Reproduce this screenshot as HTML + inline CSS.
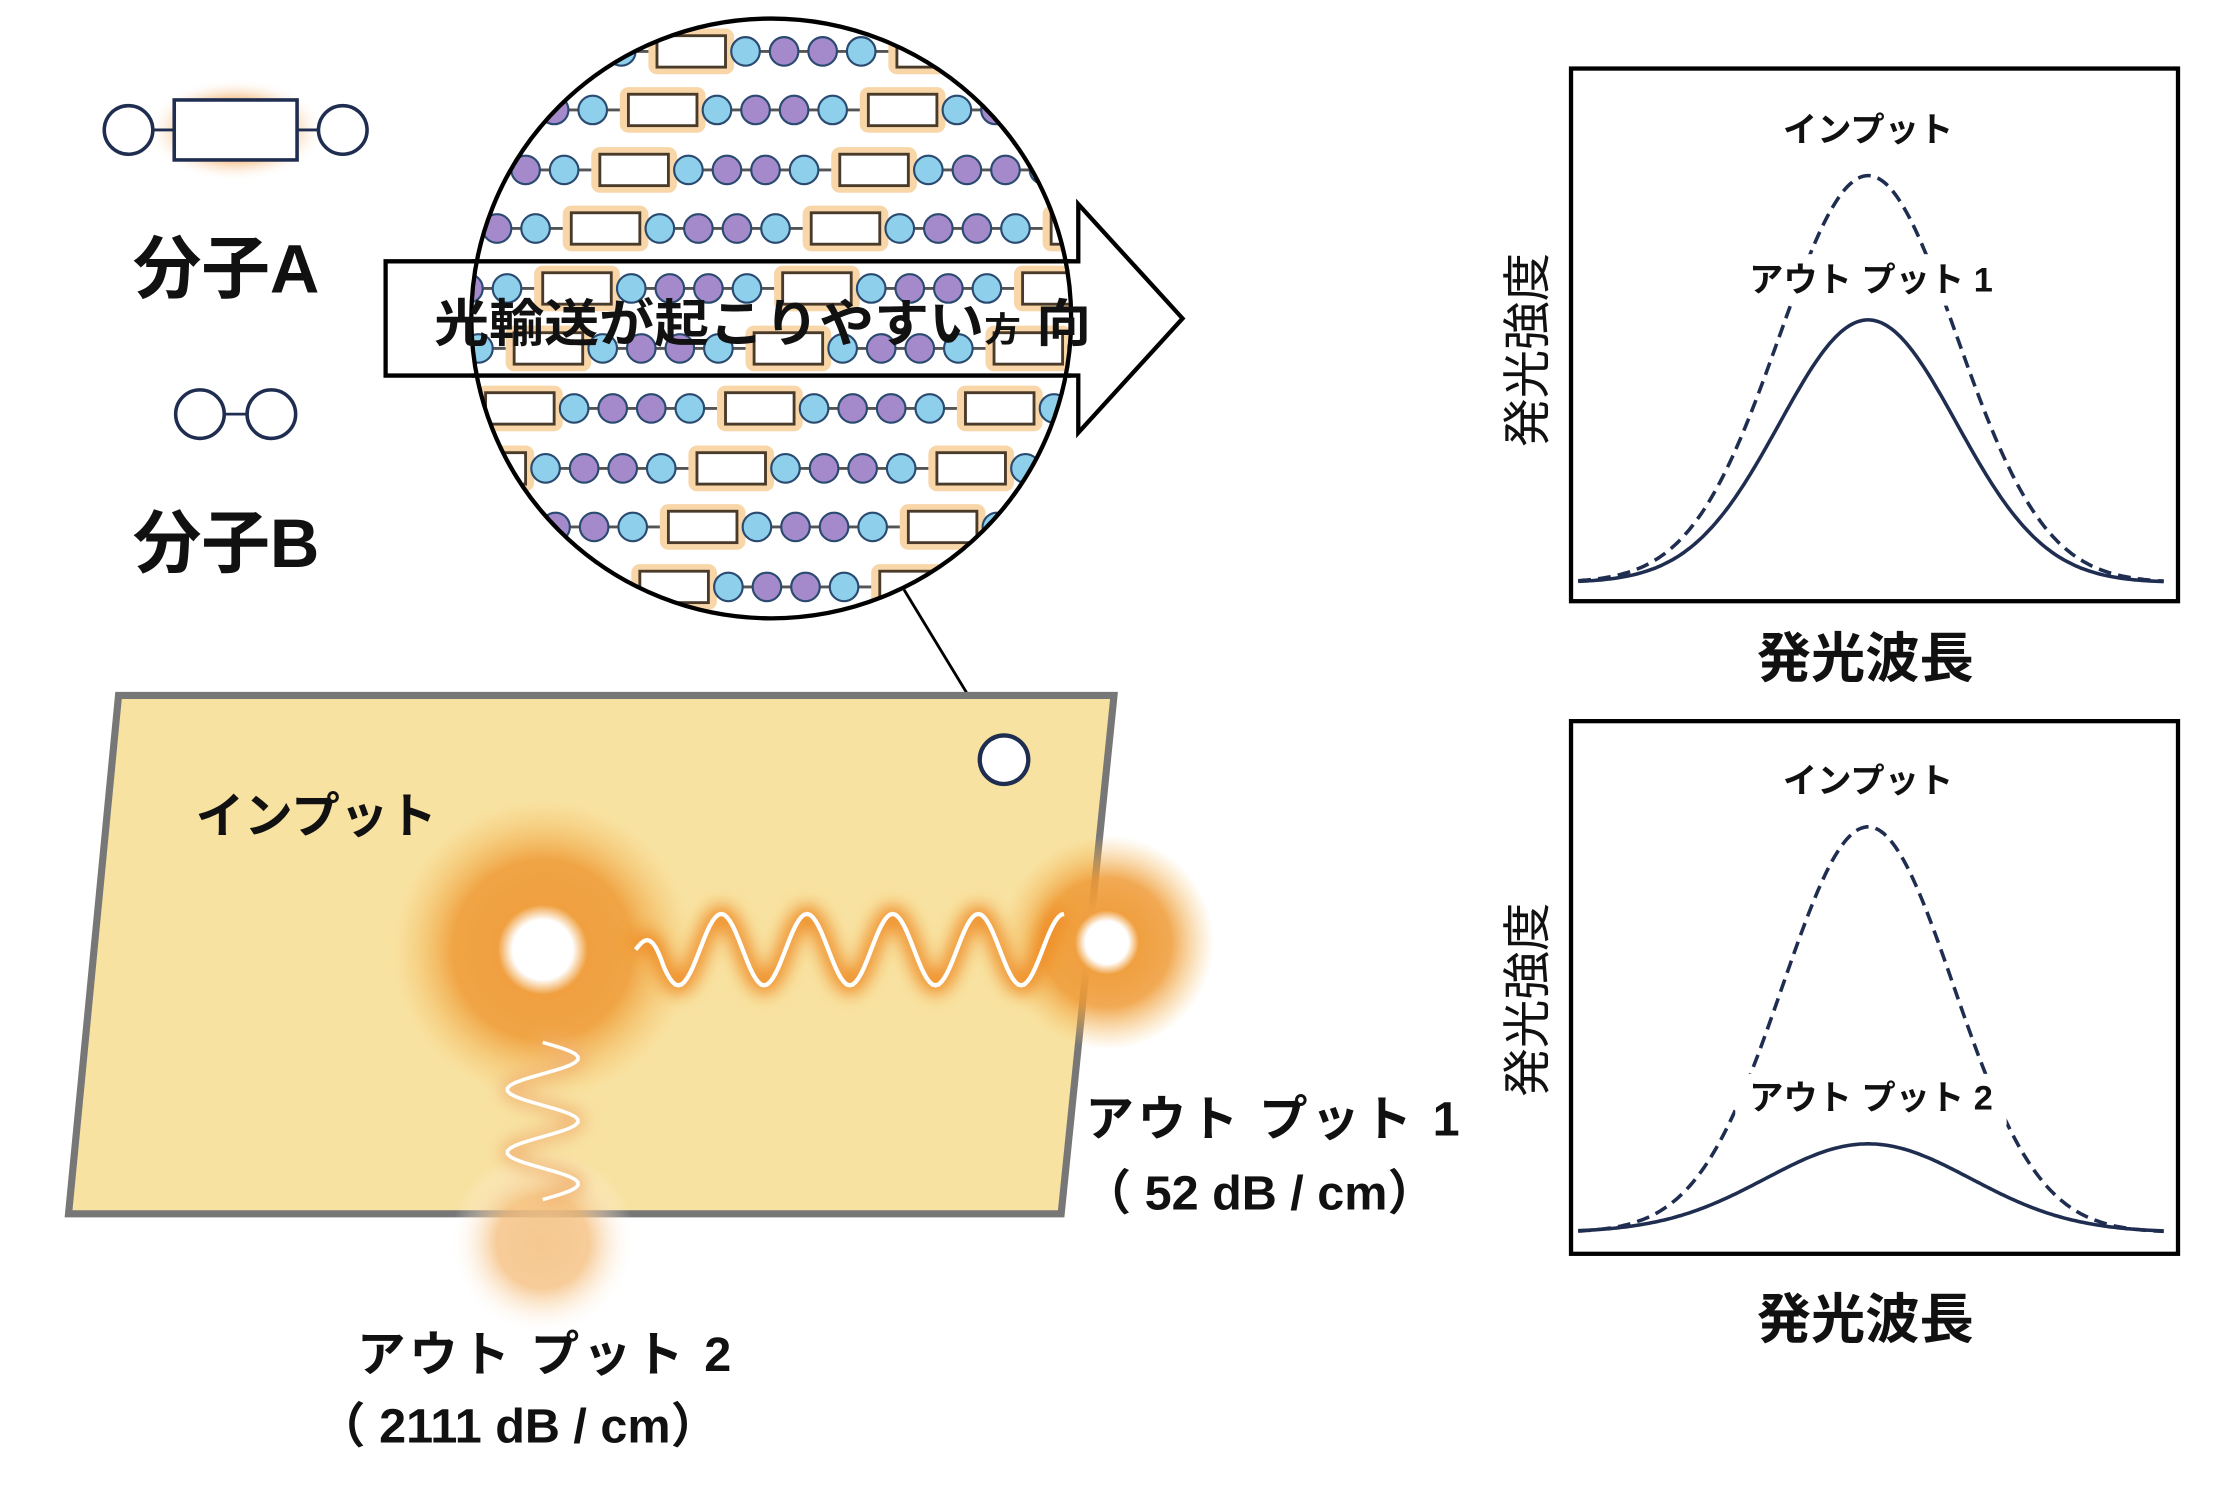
<!DOCTYPE html>
<html><head><meta charset="utf-8"><style>
html,body{margin:0;padding:0;background:#fff;width:2228px;height:1488px;overflow:hidden}
svg{display:block}
text{font-family:"Liberation Sans","Noto Sans CJK JP",sans-serif}
</style></head><body>
<svg id="s" width="2228" height="1488" viewBox="0 0 1560 1042" preserveAspectRatio="none" xmlns="http://www.w3.org/2000/svg">
<defs>
<radialGradient id="g1" cx="0.5" cy="0.5" r="0.5">
<stop offset="0" stop-color="#fff"/><stop offset="0.2" stop-color="#fff"/><stop offset="0.3" stop-color="#f0a040"/><stop offset="0.6" stop-color="#ef9a35" stop-opacity="0.85"/><stop offset="1" stop-color="#f5c060" stop-opacity="0"/>
</radialGradient>
<radialGradient id="g2" cx="0.5" cy="0.5" r="0.5">
<stop offset="0" stop-color="#f6c890"/><stop offset="0.5" stop-color="#f5c080" stop-opacity="0.8"/><stop offset="1" stop-color="#fff" stop-opacity="0"/>
</radialGradient>
<radialGradient id="gm" cx="0.5" cy="0.5" r="0.5">
<stop offset="0.55" stop-color="#f5b878"/><stop offset="1" stop-color="#fff" stop-opacity="0"/>
</radialGradient>
<clipPath id="cc"><circle cx="540" cy="223" r="210"/></clipPath>
<filter id="bl" x="-50%" y="-50%" width="200%" height="200%"><feGaussianBlur stdDeviation="6"/></filter>
</defs>

<!-- Molecule A -->
<ellipse cx="165" cy="91" rx="62" ry="36" fill="url(#gm)"/>
<line x1="90" y1="91" x2="240" y2="91" stroke="#1f2d50" stroke-width="2"/>
<circle cx="90" cy="91" r="17" fill="#fff" stroke="#1f2d50" stroke-width="2.5"/>
<rect x="122" y="70" width="86" height="42" fill="#fff" stroke="#1f2d50" stroke-width="2.5"/>
<circle cx="240" cy="91" r="17" fill="#fff" stroke="#1f2d50" stroke-width="2.5"/>
<text x="93" y="205" font-size="48" font-weight="bold" fill="#111">分子A</text>
<!-- Molecule B -->
<line x1="140" y1="290" x2="190" y2="290" stroke="#1f2d50" stroke-width="2"/>
<circle cx="140" cy="290" r="17" fill="#fff" stroke="#1f2d50" stroke-width="2.5"/>
<circle cx="190" cy="290" r="17" fill="#fff" stroke="#1f2d50" stroke-width="2.5"/>
<text x="93" y="397" font-size="48" font-weight="bold" fill="#111">分子B</text>

<!-- Arrow -->
<polygon points="270,183 755,183 755,143 828,223 755,303 755,263 270,263" fill="#fff" stroke="#000" stroke-width="3"/>

<!-- Magnifier circle -->
<circle cx="540" cy="223" r="210" fill="#fff"/>
<g id="rows" clip-path="url(#cc)"></g>
<circle cx="540" cy="223" r="210" fill="none" stroke="#000" stroke-width="3"/>
<line x1="330" y1="183" x2="750" y2="183" stroke="#000" stroke-width="3"/>
<line x1="330" y1="263" x2="750" y2="263" stroke="#000" stroke-width="3"/>
<text x="304" y="239" font-size="36" font-weight="bold" fill="#111" textLength="460" lengthAdjust="spacingAndGlyphs">光輸送が起こりやすい<tspan font-size="24">方</tspan> 向</text>
<line x1="633" y1="413" x2="695" y2="515" stroke="#000" stroke-width="2"/>

<!-- Plate -->
<polygon points="83,487 780,487 743,850 48,850" fill="#f8e2a2" stroke="#777" stroke-width="5"/>
<circle cx="703" cy="532" r="17" fill="#fff" stroke="#1f2d50" stroke-width="3"/>
<text x="137" y="583" font-size="34" font-weight="bold" fill="#111">インプット</text>
<circle cx="380" cy="665" r="105" fill="url(#g1)"/>
<circle cx="775" cy="660" r="75" fill="url(#g1)"/>
<circle cx="380" cy="870" r="65" fill="url(#g2)"/>
<path id="w1" d="" fill="none" stroke="#ef8a20" stroke-width="12" filter="url(#bl)"/>
<path id="w1b" d="" fill="none" stroke="#fff" stroke-width="3"/>
<path id="w2" d="" fill="none" stroke="#f0b070" stroke-width="8" filter="url(#bl)"/>
<path id="w2b" d="" fill="none" stroke="#fff" stroke-width="2.5"/>

<text x="760" y="795" font-size="34" font-weight="bold" fill="#111" textLength="262">アウト プット  1</text>
<text x="758" y="847" font-size="34" font-weight="bold" fill="#111">（ 52 dB / cm）</text>
<text x="250" y="960" font-size="34" font-weight="bold" fill="#111" textLength="262">アウト プット  2</text>
<text x="222" y="1010" font-size="34" font-weight="bold" fill="#111">（ 2111 dB / cm）</text>

<!-- Charts -->
<rect x="1100" y="48" width="425" height="373" fill="#fff" stroke="#000" stroke-width="3"/>
<rect x="1100" y="505" width="425" height="373" fill="#fff" stroke="#000" stroke-width="3"/>
<g id="curves" fill="none" stroke="#1f2d50"></g>
<rect x="1215" y="178" width="190" height="36" fill="#fff"/>
<rect x="1215" y="752" width="190" height="36" fill="#fff"/>
<text x="1308" y="99" font-size="24" font-weight="bold" text-anchor="middle" fill="#111">インプット</text>
<text x="1310" y="204" font-size="24" font-weight="bold" text-anchor="middle" fill="#111">アウト プット  1</text>
<text x="1308" y="555" font-size="24" font-weight="bold" text-anchor="middle" fill="#111">インプット</text>
<text x="1310" y="777" font-size="24" font-weight="bold" text-anchor="middle" fill="#111">アウト プット  2</text>
<text transform="translate(1081,245) rotate(-90)" font-size="34" text-anchor="middle" fill="#111">発光強度</text>
<text transform="translate(1081,700) rotate(-90)" font-size="34" text-anchor="middle" fill="#111">発光強度</text>
<text x="1306" y="474" font-size="38" font-weight="bold" text-anchor="middle" fill="#111">発光波長</text>
<text x="1306" y="937" font-size="38" font-weight="bold" text-anchor="middle" fill="#111">発光波長</text>
</svg>
<script>
var NS="http://www.w3.org/2000/svg";
function el(t,a,p){var e=document.createElementNS(NS,t);for(var k in a)e.setAttribute(k,a[k]);p.appendChild(e);return e;}
var rows=document.getElementById('rows');
var ys=[36,77,119,160,202,244,286,328,369,411];
var P=168;
ys.forEach(function(y,i){
  var off=460-20*i;
  while(off>300)off-=P;
  el('line',{x1:300,y1:y,x2:800,y2:y,stroke:'#555','stroke-width':2},rows);
  for(var x=off;x<800;x+=P){
    el('rect',{x:x-6,y:y-16,width:60,height:32,fill:'#f8d6a8',rx:6},rows);
    el('rect',{x:x,y:y-11,width:48,height:22,fill:'#fff',stroke:'#4a3a2a','stroke-width':2},rows);
    var cols=['#8ed0ec','#a58acb','#a58acb','#8ed0ec'];
    for(var j=0;j<4;j++){
      el('circle',{cx:x+62+j*27,cy:y,r:10,fill:cols[j],stroke:'#2a4a70','stroke-width':1.5},rows);
    }
  }
});
var d="";for(var t=0;t<=300;t+=2){var x=445+t,y=665-25*Math.sin(t/300*5*2*Math.PI+Math.PI/2)*(t<20?t/20:1);d+=(t?"L":"M")+x+" "+y.toFixed(1);}
document.getElementById('w1').setAttribute('d',d);document.getElementById('w1b').setAttribute('d',d);
d="";for(var t=0;t<=110;t+=2){var y=730+t,x=380+25*Math.sin(t/110*2.5*2*Math.PI);d+=(t?"L":"M")+x.toFixed(1)+" "+y;}
document.getElementById('w2').setAttribute('d',d);document.getElementById('w2b').setAttribute('d',d);
var cg=document.getElementById('curves');
function g(base,peak,sig,dash){
  var d="";for(var x=1105;x<=1515;x+=2){var y=base-(base-peak)*Math.exp(-Math.pow(x-1308,2)/(2*sig*sig));d+=(x==1105?"M":"L")+x+" "+y.toFixed(1);}
  var a={d:d,'stroke-width':2.5};if(dash)a['stroke-dasharray']='9 5';el('path',a,cg);
}
g(408,123,62,true);g(408,224,62,false);
g(863,579,60,true);g(863,801,72,false);
</script>
</body></html>
